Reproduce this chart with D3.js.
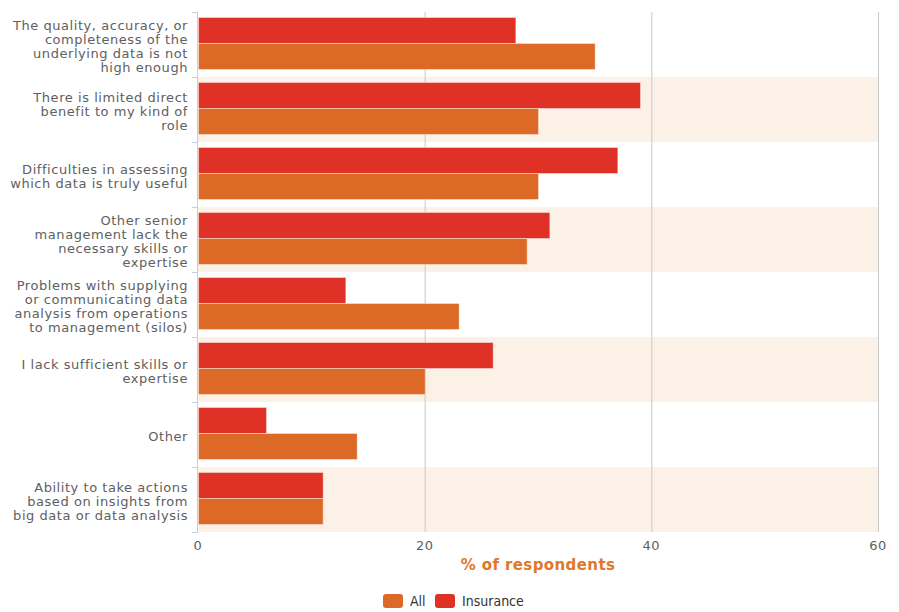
<!DOCTYPE html>
<html>
<head>
<meta charset="utf-8">
<script src="https://cdn.jsdelivr.net/npm/d3@7"></script>
<style>
  body { margin: 0; background: #fff; }
  svg { display: block; }
</style>
</head>
<body>
<div id="chart"></div>
<script>
// Category labels (already wrapped like the original)
const categories = [
    ['The quality, accuracy, or', 'completeness of the', 'underlying data is not', 'high enough'],
    ['There is limited direct', 'benefit to my kind of', 'role'],
    ['Difficulties in assessing', 'which data is truly useful'],
    ['Other senior', 'management lack the', 'necessary skills or', 'expertise'],
    ['Problems with supplying', 'or communicating data', 'analysis from operations', 'to management (silos)'],
    ['I lack sufficient skills or', 'expertise'],
    ['Other'],
    ['Ability to take actions', 'based on insights from', 'big data or data analysis']
];
const insuranceValues = [28, 39, 37, 31, 13, 26, 6, 11];
const allValues = [35, 30, 30, 29, 23, 20, 14, 11];
const xTicks = [0, 20, 40, 60];
const seriesNames = ['All', 'Insurance'];
const seriesColors = { 'All': '#DC6A26', 'Insurance': '#E03127' };

const width = 899, height = 612;
const margin = { top: 12, right: 21, bottom: 80, left: 198 };

const svg = d3.select('#chart')
    .append('svg')
    .attr('width', width)
    .attr('height', height)
    .style('font-family', '"DejaVu Sans", Verdana, sans-serif');

const x = d3.scaleLinear()
    .domain([0, 60])
    .range([margin.left, width - margin.right]);

const y = d3.scaleBand()
    .domain(d3.range(categories.length))
    .range([margin.top, height - margin.bottom]);

// inner scale: Insurance on top, All below (group sits a bit high in the band)
const inner = d3.scaleBand()
    .domain(['Insurance', 'All'])
    .range([5, y.bandwidth() - 8]);

// alternate bands
svg.selectAll('rect.band')
    .data(d3.range(categories.length).filter(i => i % 2 === 1))
    .join('rect')
    .attr('class', 'band')
    .attr('x', x(0))
    .attr('y', i => y(i))
    .attr('width', x(60) - x(0))
    .attr('height', y.bandwidth())
    .attr('fill', '#FBF1E6');

// vertical grid lines
svg.selectAll('line.grid')
    .data(xTicks.slice(1))
    .join('line')
    .attr('class', 'grid')
    .attr('x1', d => x(d) + 0.5)
    .attr('x2', d => x(d) + 0.5)
    .attr('y1', margin.top)
    .attr('y2', height - margin.bottom)
    .attr('stroke', '#C8C8C8')
    .attr('stroke-width', 1);

// bars
const rows = categories.map((c, i) => ({ i, Insurance: insuranceValues[i], All: allValues[i] }));
const groups = svg.selectAll('g.cat')
    .data(rows)
    .join('g')
    .attr('class', 'cat')
    .attr('transform', d => `translate(0,${y(d.i)})`);

groups.selectAll('rect')
    .data(d => ['Insurance', 'All'].map(k => ({ key: k, value: d[k] })))
    .join('rect')
    .attr('x', x(0) + 0.5)
    .attr('y', d => inner(d.key) + 0.5)
    .attr('width', d => x(d.value) - x(0))
    .attr('height', inner.bandwidth())
    .attr('fill', d => seriesColors[d.key])
    .attr('stroke', 'rgba(255,255,255,0.4)')
    .attr('stroke-width', 1);

// y axis line and ticks
svg.append('line')
    .attr('x1', x(0) - 0.5).attr('x2', x(0) - 0.5)
    .attr('y1', margin.top).attr('y2', height - margin.bottom)
    .attr('stroke', '#C0D0E0');

svg.selectAll('line.ytick')
    .data(d3.range(categories.length + 1))
    .join('line')
    .attr('class', 'ytick')
    .attr('x1', x(0) - 6).attr('x2', x(0))
    .attr('y1', i => (i < categories.length ? y(i) : y(i - 1) + y.bandwidth()) + 0.5)
    .attr('y2', i => (i < categories.length ? y(i) : y(i - 1) + y.bandwidth()) + 0.5)
    .attr('stroke', '#C0D0E0');

// category labels
const lineH = 14;
svg.selectAll('text.cat')
    .data(categories)
    .join('text')
    .attr('class', 'cat')
    .attr('text-anchor', 'end')
    .attr('font-size', 13)
    .attr('letter-spacing', 0.55)
    .attr('fill', '#606060')
    .each(function(lines, i) {
        const cy = y(i) + y.bandwidth() / 2;
        const start = cy - (lines.length - 1) * lineH / 2 + 6;
        d3.select(this).selectAll('tspan')
            .data(lines)
            .join('tspan')
            .attr('x', 188)
            .attr('y', (d, j) => start + j * lineH)
            .text(d => d);
    });

// x tick labels
svg.selectAll('text.xtick')
    .data(xTicks)
    .join('text')
    .attr('class', 'xtick')
    .attr('x', d => x(d))
    .attr('y', height - margin.bottom + 18)
    .attr('text-anchor', 'middle')
    .attr('font-size', 13)
    .attr('letter-spacing', 0.5)
    .attr('fill', '#606060')
    .text(d => d);

// axis title
svg.append('text')
    .attr('x', (x(0) + x(60)) / 2)
    .attr('y', height - margin.bottom + 38)
    .attr('text-anchor', 'middle')
    .attr('font-size', 15)
    .attr('font-weight', 'bold')
    .attr('letter-spacing', 0.4)
    .attr('fill', '#E0772A')
    .text('% of respondents');

// legend
const legend = svg.append('g')
    .attr('transform', 'translate(383,594)')
    .style('font-family', '"DejaVu Sans Condensed", "DejaVu Sans", sans-serif');
const legendX = [0, 52];
seriesNames.forEach((name, i) => {
    const g = legend.append('g').attr('transform', `translate(${legendX[i]},0)`);
    g.append('rect')
        .attr('width', 20).attr('height', 14)
        .attr('rx', 3)
        .attr('fill', seriesColors[name]);
    g.append('text')
        .attr('x', 27).attr('y', 12)
        .attr('font-size', 14)
        .attr('fill', '#333')
        .text(name);
});
</script>
</body>
</html>
